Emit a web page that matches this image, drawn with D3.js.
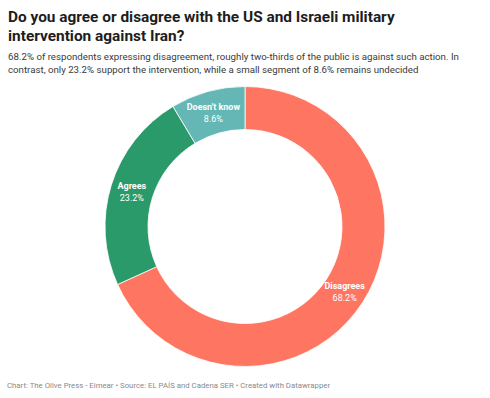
<!DOCTYPE html>
<html><head><meta charset="utf-8">
<script src="https://cdn.jsdelivr.net/npm/d3@7"></script>
<style>
body{margin:0;background:#fff;font-family:Roboto,"Noto Sans",sans-serif;}
</style></head>
<body>
<svg id="c" width="490" height="398"></svg>
<script>
const categories = ["Disagrees", "Agrees", "Doesn't know"];
const values = [68.2, 23.2, 8.6];
const colors = ["#fe7562", "#2a9a6a", "#64b7b5"];

const svg = d3.select("#c");

const title = ["Do you agree or disagree with the US and Israeli military", "intervention against Iran?"];
const subtitle = ["68.2% of respondents expressing disagreement, roughly two-thirds of the public is against such action. In", "contrast, only 23.2% support the intervention, while a small segment of 8.6% remains undecided"];

svg.selectAll("text.title").data(title).join("text")
  .attr("class","title").attr("x",8).attr("y",(d,i)=>22+i*19)
  .attr("font-size",15.4).attr("font-weight",700).attr("fill","#1d1d1d").text(d=>d);
svg.selectAll("text.sub").data(subtitle).join("text")
  .attr("class","sub").attr("x",8).attr("y",(d,i)=>60+i*13)
  .attr("font-size",9.7).attr("fill","#3a3a3a").text(d=>d);
svg.append("text").attr("x",7).attr("y",388).attr("font-size",7.8).attr("fill","#8a8a8a")
  .text("Chart: The Olive Press - Eimear \u2022 Source: EL PA\u00cdS and Cadena SER \u2022 Created with Datawrapper");

const cx = 245, cy = 226.5, rO = 140, rI = 97;
const pie = d3.pie().sort(null).value(d=>d.v);
const data = pie(categories.map((c,i)=>({c, v: values[i], col: colors[i]})));
const arc = d3.arc().innerRadius(rI).outerRadius(rO);
const g = svg.append("g").attr("transform",`translate(${cx},${cy})`);
g.selectAll("path").data(data).join("path")
  .attr("d",arc).attr("fill",d=>d.data.col).attr("stroke","#fff").attr("stroke-width",0.8);

const lab = g.selectAll("g.lab").data(data).join("g").attr("class","lab")
  .attr("transform",d=>`translate(${arc.centroid(d)})`);
lab.append("text").attr("text-anchor","middle").attr("y",-2)
  .attr("font-size",9).attr("font-weight",700).attr("fill","#fff").text(d=>d.data.c);
lab.append("text").attr("text-anchor","middle").attr("y",10)
  .attr("font-size",9).attr("fill","#fff").text(d=>d.data.v.toFixed(1)+"%");
</script>
</body></html>
